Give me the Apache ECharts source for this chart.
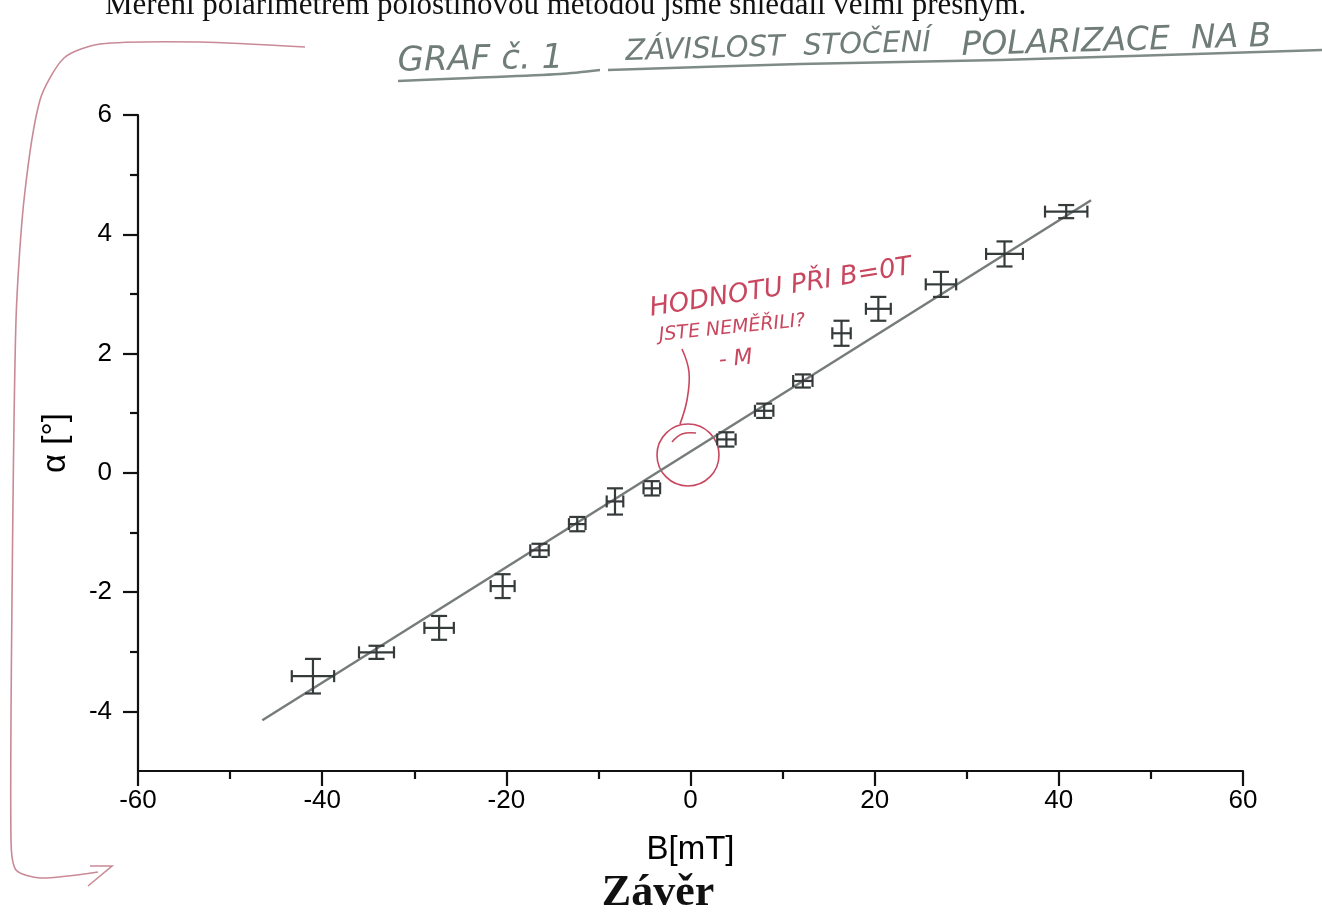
<!DOCTYPE html>
<html>
<head>
<meta charset="utf-8">
<script src="https://cdn.jsdelivr.net/npm/echarts@6/dist/echarts.min.js"></script>
<style>html,body{margin:0;padding:0;background:#fff;}#c{width:1322px;height:915px;}</style>
</head>
<body>
<div id="c"></div>
<script>
// ---- data ----
const B        = [-41.0, -34.1, -27.3, -20.4, -16.4, -12.3, -8.2, -4.2, 3.9, 8.0, 12.2, 16.4, 20.4, 27.2, 34.1, 40.8];
const alpha    = [-3.41, -3.01, -2.60, -1.90, -1.30, -0.86, -0.48, -0.26, 0.56, 1.04, 1.54, 2.34, 2.75, 3.16, 3.67, 4.38];
const errB     = [2.3, 1.9, 1.6, 1.3, 1.0, 0.9, 0.9, 0.9, 1.0, 1.0, 1.05, 1.0, 1.35, 1.65, 2.0, 2.3];
const errAlpha = [0.29, 0.11, 0.20, 0.20, 0.11, 0.12, 0.22, 0.12, 0.12, 0.12, 0.11, 0.21, 0.20, 0.21, 0.21, 0.11];
const fitB     = [-46.5, 43.5];
const fitAlpha = [-4.15, 4.57];
const xTicks   = [-60, -40, -20, 0, 20, 40, 60];
const yMajor   = [-4, -2, 0, 2, 4, 6];
const yMinor   = [-3, -1, 1, 3, 5];

const chart = echarts.init(document.getElementById('c'));
const pts = B.map((b, i) => [b, alpha[i], errB[i], errAlpha[i]]);
const fit = fitB.map((b, i) => [b, fitAlpha[i]]);
const RED = '#c8475f';
const HAND = '#6f7c77';

function renderErr(params, api) {
  const x = api.value(0), y = api.value(1), ex = api.value(2), ey = api.value(3);
  const c = api.coord([x, y]);
  const l = api.coord([x - ex, y]), r = api.coord([x + ex, y]);
  const t = api.coord([x, y + ey]), b = api.coord([x, y - ey]);
  const cw = 8, ch = 6;
  const st = { stroke: '#353a3a', lineWidth: 2.2 };
  const ln = (x1, y1, x2, y2) => ({ type: 'line', shape: { x1, y1, x2, y2 }, style: st });
  return {
    type: 'group',
    children: [
      ln(l[0], c[1], r[0], c[1]),
      ln(c[0], t[1], c[0], b[1]),
      ln(c[0] - cw, t[1], c[0] + cw, t[1]),
      ln(c[0] - cw, b[1], c[0] + cw, b[1]),
      ln(l[0], c[1] - ch, l[0], c[1] + ch),
      ln(r[0], c[1] - ch, r[0], c[1] + ch)
    ]
  };
}

const tickFont = { fontFamily: 'Liberation Sans, Arial, sans-serif', fontSize: 26, color: '#000' };
const poly = (points, stroke, w, smooth) => ({ type: 'polyline', shape: { points, smooth: smooth || 0 }, style: { stroke, lineWidth: w, fill: null }, silent: true });

chart.setOption({
  animation: false,
  backgroundColor: '#fff',
  grid: { left: 138, right: 79, top: 115, bottom: 144, containLabel: false },
  xAxis: {
    type: 'value', min: xTicks[0], max: xTicks[xTicks.length - 1], interval: 20,
    name: 'B[mT]', nameLocation: 'middle', nameGap: 62,
    nameTextStyle: { fontFamily: 'Liberation Sans, Arial, sans-serif', fontSize: 33, color: '#000' },
    axisLine: { onZero: false, lineStyle: { color: '#111', width: 2.2 } },
    axisTick: { length: 15, lineStyle: { color: '#111', width: 2.2 } },
    minorTick: { show: true, splitNumber: 2, length: 8, lineStyle: { color: '#111', width: 2.2 } },
    axisLabel: Object.assign({ margin: 17 }, tickFont),
    splitLine: { show: false }
  },
  yAxis: [
    {
      type: 'value', min: -5, max: 6, interval: 1,
      name: 'α [°]', nameLocation: 'middle', nameGap: 66,
      nameTextStyle: { fontFamily: 'Liberation Sans, Arial, sans-serif', fontSize: 33, color: '#000' },
      axisLine: { onZero: false, lineStyle: { color: '#111', width: 2.2 } },
      axisTick: { length: 15, customValues: yMajor, lineStyle: { color: '#111', width: 2.2 } },
      axisLabel: Object.assign({ margin: 26, customValues: yMajor }, tickFont),
      splitLine: { show: false }
    },
    {
      type: 'value', min: -5, max: 6, interval: 1, position: 'left',
      axisLine: { show: false, onZero: false },
      axisTick: { show: true, length: 8, customValues: yMinor, lineStyle: { color: '#111', width: 2.2 } },
      axisLabel: { show: false },
      splitLine: { show: false }
    }
  ],
  series: [
    {
      type: 'line', data: fit, showSymbol: false, symbol: 'none',
      lineStyle: { color: '#767c7a', width: 2.5 }, z: 2
    },
    {
      type: 'custom', data: pts, renderItem: renderErr,
      encode: { x: 0, y: 1 }, z: 3
    }
  ],
  graphic: [
    { type: 'text', x: 105, y: 21, style: { text: 'Měření polarimetrem polostínovou metodou jsme shledali velmi přesným.', fontFamily: 'Liberation Serif, Times New Roman, serif', fontSize: 31, fill: '#111', textVerticalAlign: 'bottom' } },
    // handwritten title
    { type: 'text', x: 398, y: 79, rotation: 0.02, style: { text: 'GRAF č. 1', fontFamily: 'DejaVu Sans', fontStyle: 'italic', fontSize: 34, fill: HAND, textVerticalAlign: 'bottom' } },
    { type: 'text', x: 626, y: 67, rotation: 0.03, style: { text: 'ZÁVISLOST  STOČENÍ', fontFamily: 'DejaVu Sans', fontStyle: 'italic', fontSize: 29, fill: HAND, textVerticalAlign: 'bottom' } },
    { type: 'text', x: 962, y: 63, rotation: 0.03, style: { text: 'POLARIZACE  NA B', fontFamily: 'DejaVu Sans', fontStyle: 'italic', fontSize: 33, fill: HAND, textVerticalAlign: 'bottom' } },
    poly([[398, 81], [470, 78], [560, 74], [600, 70]], '#7f8b87', 2.5, 0.3),
    poly([[608, 70], [800, 64], [1000, 60], [1322, 50]], '#7f8b87', 2.5, 0.3),
    // red bracket
    poly([[305, 47], [200, 42], [100, 44], [64, 58], [40, 100], [24, 200], [16, 320], [12, 600], [11, 840], [16, 870], [40, 878], [98, 872]], '#c98a97', 1.6, 0.25),
    poly([[90, 866], [112, 866], [88, 886]], '#c98a97', 1.6, 0),
    // red annotation
    { type: 'text', x: 652, y: 322, rotation: 0.16, style: { text: 'HODNOTU PŘI B=0T', fontFamily: 'DejaVu Sans', fontStyle: 'italic', fontSize: 26, fill: RED, textVerticalAlign: 'bottom' } },
    { type: 'text', x: 660, y: 345, rotation: 0.1, style: { text: 'JSTE NEMĚŘILI?', fontFamily: 'DejaVu Sans', fontStyle: 'italic', fontSize: 19, fill: RED, textVerticalAlign: 'bottom' } },
    { type: 'text', x: 720, y: 372, rotation: 0.1, style: { text: '- M', fontFamily: 'DejaVu Sans', fontStyle: 'italic', fontSize: 22, fill: RED, textVerticalAlign: 'bottom' } },
    poly([[682, 349], [689, 372], [687, 400], [680, 424]], RED, 1.6, 0.4),
    poly([[672, 442], [682, 434], [696, 433]], RED, 1.6, 0.4),
    { type: 'circle', shape: { cx: 688, cy: 455, r: 31 }, style: { stroke: RED, lineWidth: 1.6, fill: null }, silent: true },
    // heading
    { type: 'text', x: 658, y: 916, style: { text: 'Závěr', fontFamily: 'Liberation Serif, Times New Roman, serif', fontWeight: 'bold', fontSize: 44, fill: '#111', textAlign: 'center', textVerticalAlign: 'bottom' } }
  ]
});
</script>
</body>
</html>
